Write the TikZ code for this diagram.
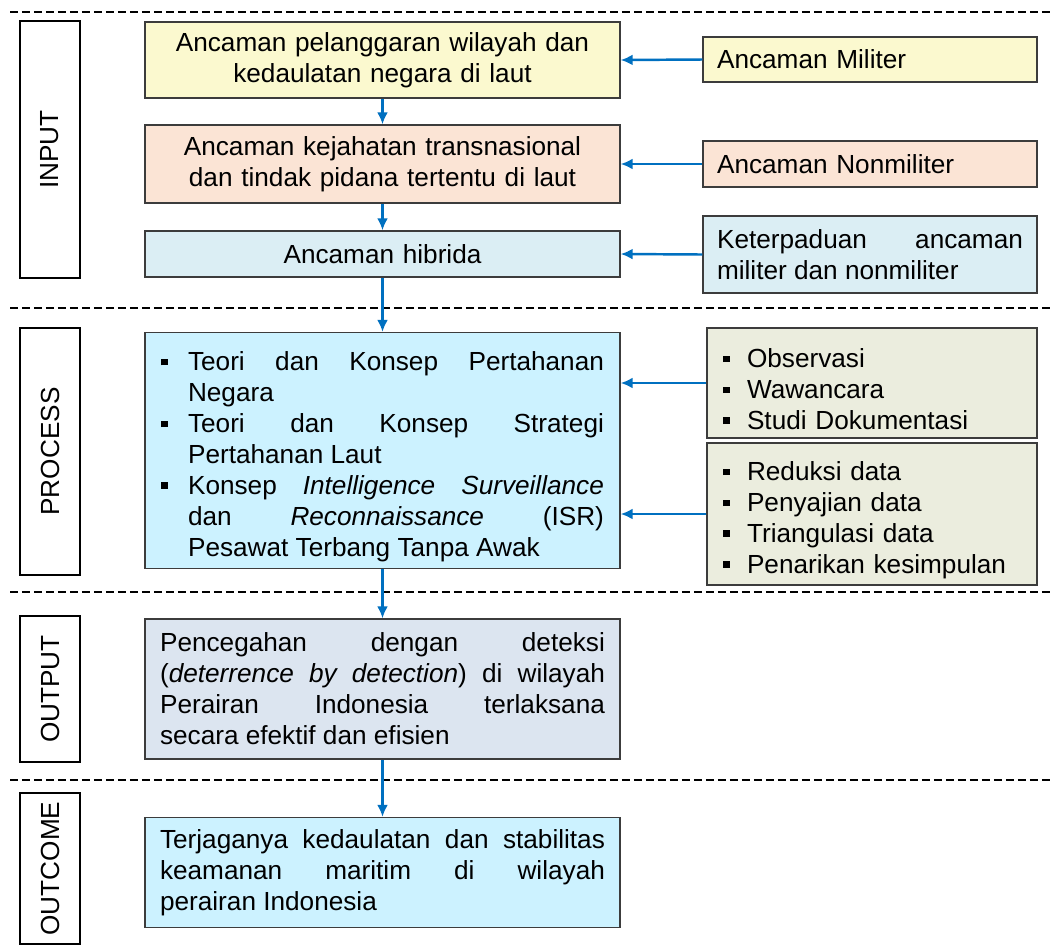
\documentclass[tikz,border=0pt]{standalone}
\usepackage{fontspec}
\setmainfont{Liberation Sans}
\usetikzlibrary{arrows.meta,positioning,calc}

\definecolor{boxline}{RGB}{60,60,60}
\definecolor{flowblue}{RGB}{0,112,192}
\definecolor{fillyellow}{RGB}{251,249,207}
\definecolor{fillpeach}{RGB}{251,228,213}
\definecolor{fillpale}{RGB}{219,238,244}
\definecolor{fillcyan}{RGB}{204,242,255}
\definecolor{fillslate}{RGB}{220,229,240}
\definecolor{fillolive}{RGB}{235,237,222}

\newcommand{\diagfont}{\fontsize{14.9}{17.6}\selectfont}
\newcommand{\sqbul}{\rule[0.2em]{0.25em}{0.25em}}
\newcommand{\bitem}[2][0.54cm]{\par\hangindent=#1\hangafter=1\noindent\makebox[#1][l]{\sqbul}#2\par}

\tikzset{
  stepbox/.style={draw=boxline, line width=0.8pt, font=\diagfont, inner ysep=2pt},
  mainbox/.style={stepbox, minimum width=9.5cm, text width=8.9cm, inner xsep=0.3cm, align=center},
  sidebox/.style={stepbox, minimum width=6.68cm, text width=6.12cm, inner xsep=0.28cm, align=left},
  listbox/.style={stepbox, minimum width=6.6cm, text width=5.96cm, inner xsep=0.32cm, align=left, fill=fillolive},
  justbox/.style={align=justify, execute at begin node={\hyphenpenalty=10000\tolerance=9999\emergencystretch=2em}},
  stagebox/.style={draw=black, line width=0.8pt, fill=white, rotate=90, font=\diagfont,
    minimum height=1.2cm, inner sep=0pt},
  flow/.style={-{Latex[length=2.4mm,width=2.2mm]}, line width=1.4pt, draw=flowblue},
  divider/.style={dash pattern=on 1.6mm off 0.8mm, line width=1.2pt},
}
\newcommand{\feedarrow}[2]{\draw[flow] (#1) -- (#2);}

\begin{document}
\begin{tikzpicture}[x=0.02cm, y=-0.02cm]

  \useasboundingbox (0,0) rectangle (1051,948);
  \fill[white] (0,0) rectangle (1051,948);

  %% ---- dividers between stages ----
  \draw[divider] (10,12)  -- (1051,12);
  \draw[divider] (10,308) -- (1051,308);
  \draw[divider] (10,592) -- (1051,592);
  \draw[divider] (10,780) -- (1051,780);

  %% ---- stage labels ----
  \node[stagebox, minimum width=5.14cm] (input)   at (50,149.5) {INPUT};
  \node[stagebox, minimum width=4.94cm] (process) at (50,451.5) {PROCESS};
  \node[stagebox, minimum width=2.92cm] (output)  at (50,689)   {OUTPUT};
  \node[stagebox, minimum width=3.02cm] (outcome) at (50,868.5) {OUTCOME};

  %% ---- INPUT ----
  \node[mainbox, fill=fillyellow, minimum height=1.52cm] (threatA) at (382.5,60)
    {Ancaman pelanggaran wilayah dan\\kedaulatan negara di laut};
  \node[mainbox, fill=fillpeach, minimum height=1.56cm] (threatB) at (382.5,164)
    {Ancaman kejahatan transnasional\\dan tindak pidana tertentu di laut};
  \node[mainbox, fill=fillpale, minimum height=0.92cm] (hybrid) at (382.5,254)
    {Ancaman hibrida};

  \node[sidebox, fill=fillyellow, minimum height=0.9cm] (mil) at (870,59.5)
    {Ancaman Militer};
  \node[sidebox, fill=fillpeach, minimum height=0.92cm] (nonmil) at (870,164)
    {Ancaman Nonmiliter};
  \node[sidebox, justbox, fill=fillpale, minimum height=1.54cm] (mixed) at (870,254.5)
    {Keterpaduan ancaman\linebreak militer dan nonmiliter};

  \feedarrow{mil.west}{threatA.east}
  \feedarrow{nonmil.west}{threatB.east}
  \feedarrow{mixed.west}{hybrid.east}

  %% ---- PROCESS ----
  \node[mainbox, justbox, fill=fillcyan, minimum height=4.72cm, text width=8.86cm,
    inner xsep=0.32cm] (theory) at (382.5,450.5) {%
    \bitem{Teori dan Konsep Pertahanan\linebreak Negara}
    \bitem{Teori dan Konsep Strategi\linebreak Pertahanan Laut}
    \bitem{Konsep \textit{Intelligence Surveillance}\linebreak dan \textit{Reconnaissance} (ISR)\linebreak Pesawat Terbang Tanpa Awak}};

  \node[listbox, minimum height=2.2cm] (collect) at (872,383) {%
    \bitem[0.48cm]{Observasi}
    \bitem[0.48cm]{Wawancara}
    \bitem[0.48cm]{Studi Dokumentasi}};
  \node[listbox, minimum height=2.84cm] (analyse) at (872,514) {%
    \bitem[0.48cm]{Reduksi data}
    \bitem[0.48cm]{Penyajian data}
    \bitem[0.48cm]{Triangulasi data}
    \bitem[0.48cm]{Penarikan kesimpulan}};

  \draw[flow] (collect.west) -- (collect.west -| theory.east);
  \draw[flow] (analyse.west) -- (analyse.west -| theory.east);

  %% ---- OUTPUT / OUTCOME ----
  \node[mainbox, justbox, fill=fillslate, minimum height=2.8cm] (deter) at (382.5,689)
    {Pencegahan dengan deteksi\linebreak (\textit{deterrence by detection}) di wilayah\linebreak
     Perairan Indonesia terlaksana\linebreak secara efektif dan efisien};
  \node[mainbox, justbox, fill=fillcyan, minimum height=2.2cm] (secure) at (382.5,872.5)
    {Terjaganya kedaulatan dan stabilitas\linebreak keamanan maritim di wilayah\linebreak
     perairan Indonesia};

  %% ---- main flow ----
  \feedarrow{threatA}{threatB}
  \feedarrow{threatB}{hybrid}
  \feedarrow{hybrid}{theory}
  \feedarrow{theory}{deter}
  \feedarrow{deter}{secure}

\end{tikzpicture}
\end{document}
